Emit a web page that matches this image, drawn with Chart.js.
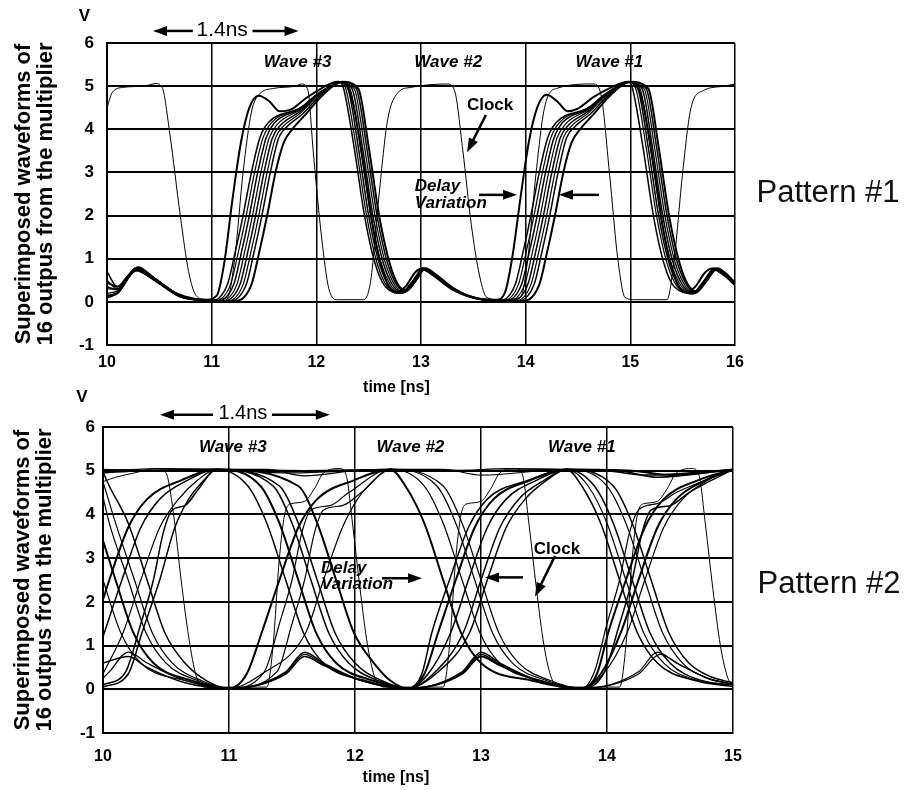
<!DOCTYPE html>
<html lang="en">
<head>
<meta charset="UTF-8">
<title>Superimposed waveforms</title>
<script src="https://cdn.jsdelivr.net/npm/chart.js"></script>
<style>
  body { margin: 0; background: #fff; }
  #wrap { position: relative; width: 908px; height: 790px; overflow: hidden; }
  canvas { position: absolute; left: 0; }
  .pat { position: absolute; width: 170px; text-align: center; font: 31px "Liberation Sans", Arial, sans-serif; line-height: 31px; color: #111; }
</style>
</head>
<body>
<div id="wrap">
  <canvas id="c1" width="908" height="400" style="top:0"></canvas>
  <canvas id="c2" width="908" height="400" style="top:390px"></canvas>
  <div class="pat" style="left:743px; top:176px">Pattern #1</div>
  <div class="pat" style="left:744px; top:567px">Pattern #2</div>
</div>
<script>
// tick labels
const p1Ticks = [10, 11, 12, 13, 14, 15, 16];
const p2Ticks = [10, 11, 12, 13, 14, 15];
const vTicks = [-1, 0, 1, 2, 3, 4, 5, 6];

// Pattern #1 : time (ns), volts pairs
const p1Clock = [10,4.5, 10.05,4.85, 10.15,4.97, 10.35,5.0, 10.47,5.06, 10.53,4.95, 10.6,3.9, 10.7,2.0, 10.78,0.7, 10.85,0.15, 10.95,0.05, 11.15,0.1, 11.22,1.0, 11.3,3.0, 11.38,4.4, 11.45,4.8, 11.6,4.95, 11.8,5.0, 11.86,5.05, 11.92,4.9, 11.97,3.5, 12.05,1.5, 12.12,0.3, 12.2,0.05, 12.45,0.05, 12.52,0.5, 12.6,2.5, 12.68,4.2, 12.78,4.85, 12.9,4.97, 13.25,5.05, 13.32,4.9, 13.4,3.5, 13.48,1.8, 13.56,0.6, 13.63,0.1, 13.75,0.05, 13.95,0.1, 14.02,1.0, 14.1,3.0, 14.18,4.5, 14.3,4.95, 14.65,5.05, 14.72,4.8, 14.8,3.0, 14.88,1.0, 14.95,0.1, 15.05,0.05, 15.35,0.05, 15.42,1.0, 15.5,3.0, 15.58,4.5, 15.7,4.9, 15.9,5.0, 16,5.05];
const p1Early = [10,0.45, 10.1,0.35, 10.2,0.6, 10.3,0.8, 10.4,0.65, 10.55,0.35, 10.75,0.12, 10.95,0.05, 11.05,0.15, 11.12,0.9, 11.2,2.4, 11.28,3.7, 11.36,4.5, 11.45,4.78, 11.55,4.65, 11.65,4.42, 11.75,4.45, 11.9,4.72, 12.05,4.95, 12.2,5.1, 12.28,5.05, 12.35,4.6, 12.45,3.2, 12.55,1.6, 12.65,0.6, 12.75,0.22, 12.85,0.35, 12.95,0.7, 13.02,0.78, 13.1,0.65, 13.3,0.3, 13.55,0.08, 13.72,0.05, 13.8,0.2, 13.87,1.0, 13.95,2.4, 14.03,3.7, 14.11,4.5, 14.2,4.8, 14.3,4.65, 14.4,4.42, 14.5,4.48, 14.65,4.75, 14.8,4.95, 14.98,5.1, 15.05,5.05, 15.12,4.6, 15.22,3.2, 15.32,1.6, 15.42,0.6, 15.52,0.22, 15.62,0.35, 15.72,0.7, 15.8,0.78, 15.9,0.62, 16,0.42];
const p1Out1 = [10,0.7, 10.1,0.35, 10.28,0.78, 10.45,0.55, 10.7,0.15, 10.95,0.03, 11.0,0.02, 11.15,0.4, 11.22,1.1, 11.3,2.0, 11.38,3.0, 11.46,3.8, 11.54,4.15, 11.85,4.5, 12.0,4.8, 12.15,5.02, 12.22,5.1, 12.26,4.95, 12.36,3.6, 12.46,2.0, 12.56,0.9, 12.66,0.35, 12.82,0.2, 12.92,0.45, 13.02,0.75, 13.12,0.62, 13.3,0.3, 13.55,0.07, 13.75,0.02, 13.9,0.4, 13.97,1.1, 14.05,2.0, 14.13,3.0, 14.21,3.8, 14.29,4.15, 14.6,4.5, 14.75,4.8, 14.9,5.02, 14.98,5.1, 15.02,4.95, 15.12,3.6, 15.22,2.0, 15.32,0.9, 15.42,0.35, 15.6,0.2, 15.7,0.45, 15.8,0.75, 15.9,0.62, 16,0.4];
const p1Out2 = [10,0.5, 10.1,0.3, 10.28,0.8, 10.45,0.56, 10.7,0.15, 10.95,0.03, 11.03,0.02, 11.18,0.4, 11.25,1.1, 11.33,2.0, 11.41,3.0, 11.49,3.8, 11.57,4.15, 11.85,4.5, 12.0,4.8, 12.15,5.02, 12.22,5.1, 12.28,4.95, 12.38,3.6, 12.48,2.0, 12.58,0.9, 12.68,0.35, 12.82,0.22, 12.92,0.48, 13.02,0.78, 13.12,0.64, 13.3,0.3, 13.55,0.07, 13.78,0.02, 13.93,0.4, 14.0,1.1, 14.08,2.0, 14.16,3.0, 14.24,3.8, 14.32,4.15, 14.6,4.5, 14.75,4.8, 14.9,5.02, 14.98,5.1, 15.05,4.95, 15.15,3.6, 15.25,2.0, 15.35,0.9, 15.45,0.35, 15.6,0.2, 15.7,0.47, 15.8,0.77, 15.9,0.63, 16,0.4];
const p1Out3 = [10,0.35, 10.1,0.28, 10.28,0.76, 10.45,0.54, 10.7,0.14, 10.95,0.03, 11.06,0.02, 11.21,0.4, 11.28,1.1, 11.36,2.0, 11.44,3.0, 11.52,3.8, 11.6,4.15, 11.85,4.48, 12.0,4.78, 12.15,5.02, 12.22,5.1, 12.3,4.95, 12.4,3.6, 12.5,2.0, 12.6,0.9, 12.7,0.35, 12.82,0.2, 12.92,0.44, 13.02,0.74, 13.12,0.6, 13.3,0.28, 13.55,0.06, 13.81,0.02, 13.96,0.4, 14.03,1.1, 14.11,2.0, 14.19,3.0, 14.27,3.8, 14.35,4.15, 14.6,4.48, 14.75,4.78, 14.9,5.02, 14.98,5.1, 15.07,4.95, 15.17,3.6, 15.27,2.0, 15.37,0.9, 15.47,0.35, 15.6,0.18, 15.7,0.44, 15.8,0.74, 15.9,0.6, 16,0.38];
const p1Out4 = [10,0.2, 10.1,0.25, 10.28,0.74, 10.45,0.52, 10.7,0.13, 10.95,0.03, 11.09,0.02, 11.24,0.4, 11.31,1.1, 11.39,2.0, 11.47,3.0, 11.55,3.8, 11.63,4.12, 11.85,4.46, 12.0,4.78, 12.15,5.02, 12.22,5.1, 12.32,4.95, 12.42,3.6, 12.52,2.0, 12.62,0.9, 12.72,0.35, 12.82,0.22, 12.92,0.46, 13.02,0.76, 13.12,0.62, 13.3,0.3, 13.55,0.07, 13.84,0.02, 13.99,0.4, 14.06,1.1, 14.14,2.0, 14.22,3.0, 14.3,3.8, 14.38,4.12, 14.6,4.46, 14.75,4.78, 14.9,5.02, 14.98,5.1, 15.09,4.95, 15.19,3.6, 15.29,2.0, 15.39,0.9, 15.49,0.35, 15.6,0.2, 15.7,0.46, 15.8,0.76, 15.9,0.62, 16,0.4];
const p1Out5 = [10,0.12, 10.1,0.22, 10.28,0.72, 10.45,0.5, 10.7,0.12, 10.95,0.03, 11.12,0.02, 11.27,0.4, 11.34,1.1, 11.42,2.0, 11.5,3.0, 11.58,3.8, 11.66,4.1, 11.85,4.42, 12.0,4.76, 12.15,5.02, 12.22,5.1, 12.34,4.95, 12.44,3.6, 12.54,2.0, 12.64,0.9, 12.74,0.35, 12.82,0.24, 12.92,0.48, 13.02,0.77, 13.12,0.63, 13.3,0.3, 13.55,0.07, 13.87,0.02, 14.02,0.4, 14.09,1.1, 14.17,2.0, 14.25,3.0, 14.33,3.8, 14.41,4.1, 14.6,4.42, 14.75,4.76, 14.9,5.02, 14.98,5.1, 15.11,4.95, 15.21,3.6, 15.31,2.0, 15.41,0.9, 15.51,0.35, 15.6,0.22, 15.7,0.48, 15.8,0.77, 15.9,0.63, 16,0.41];
const p1Out6 = [10,0.3, 10.1,0.3, 10.28,0.77, 10.45,0.55, 10.7,0.15, 10.95,0.03, 11.15,0.02, 11.3,0.4, 11.37,1.1, 11.45,2.0, 11.53,3.0, 11.61,3.8, 11.69,4.08, 11.85,4.38, 12.0,4.74, 12.15,5.0, 12.22,5.08, 12.36,4.95, 12.46,3.6, 12.56,2.0, 12.66,0.9, 12.76,0.35, 12.84,0.22, 12.94,0.46, 13.03,0.75, 13.13,0.62, 13.3,0.3, 13.55,0.07, 13.9,0.02, 14.05,0.4, 14.12,1.1, 14.2,2.0, 14.28,3.0, 14.36,3.8, 14.44,4.08, 14.6,4.38, 14.75,4.74, 14.9,5.0, 14.98,5.08, 15.13,4.95, 15.23,3.6, 15.33,2.0, 15.43,0.9, 15.53,0.35, 15.62,0.2, 15.72,0.46, 15.82,0.75, 15.92,0.6, 16,0.42];
const p1Out7 = [10,0.15, 10.1,0.2, 10.28,0.75, 10.45,0.53, 10.7,0.13, 10.95,0.03, 11.18,0.02, 11.33,0.4, 11.4,1.1, 11.48,2.0, 11.56,3.0, 11.64,3.8, 11.72,4.06, 11.87,4.36, 12.02,4.74, 12.15,5.0, 12.24,5.1, 12.38,4.95, 12.48,3.6, 12.58,2.0, 12.68,0.9, 12.78,0.35, 12.86,0.25, 12.95,0.48, 13.04,0.76, 13.14,0.62, 13.32,0.3, 13.55,0.07, 13.93,0.02, 14.08,0.4, 14.15,1.1, 14.23,2.0, 14.31,3.0, 14.39,3.8, 14.47,4.06, 14.62,4.36, 14.77,4.74, 14.9,5.0, 15.0,5.1, 15.15,4.95, 15.25,3.6, 15.35,2.0, 15.45,0.9, 15.55,0.35, 15.63,0.22, 15.73,0.48, 15.83,0.76, 15.93,0.6, 16,0.43];
const p1Out8 = [10,0.1, 10.1,0.2, 10.28,0.73, 10.45,0.52, 10.7,0.12, 10.95,0.03, 11.23,0.02, 11.38,0.4, 11.45,1.1, 11.53,2.0, 11.61,3.0, 11.69,3.7, 11.77,4.0, 11.9,4.35, 12.04,4.74, 12.16,5.0, 12.25,5.1, 12.4,4.95, 12.5,3.6, 12.6,2.0, 12.7,0.9, 12.78,0.4, 12.86,0.26, 12.95,0.5, 13.04,0.78, 13.14,0.64, 13.32,0.3, 13.55,0.07, 13.98,0.02, 14.13,0.4, 14.2,1.1, 14.28,2.0, 14.36,3.0, 14.44,3.7, 14.52,4.0, 14.65,4.35, 14.79,4.74, 14.91,5.0, 15.0,5.1, 15.17,4.95, 15.27,3.6, 15.37,2.0, 15.47,0.9, 15.55,0.4, 15.63,0.24, 15.73,0.5, 15.83,0.78, 15.93,0.62, 16,0.44];

// Pattern #2 : time (ns), volts pairs
const p2Clock = [10,4.75, 10.1,4.85, 10.25,4.95, 10.42,5.05, 10.5,4.95, 10.56,4.0, 10.62,2.5, 10.68,1.2, 10.74,0.3, 10.82,0.05, 11.3,0.05, 11.35,1.0, 11.4,3.0, 11.45,4.1, 11.5,4.25, 11.6,4.3, 11.68,4.6, 11.75,4.95, 11.88,5.05, 11.93,4.9, 11.98,3.8, 12.04,2.3, 12.1,1.0, 12.16,0.25, 12.24,0.05, 12.7,0.05, 12.75,1.0, 12.8,3.0, 12.85,4.1, 12.9,4.25, 13.0,4.3, 13.08,4.6, 13.15,4.95, 13.28,5.05, 13.33,4.9, 13.38,3.8, 13.44,2.3, 13.5,1.0, 13.56,0.25, 13.64,0.05, 14.1,0.05, 14.15,1.0, 14.2,3.0, 14.25,4.1, 14.3,4.25, 14.4,4.3, 14.48,4.6, 14.55,4.95, 14.68,5.05, 14.73,4.9, 14.78,3.8, 14.84,2.3, 14.9,1.0, 14.96,0.25, 15,0.1];
const p2Out1 = [10,1.2, 10.15,2.5, 10.3,3.7, 10.45,4.35, 10.67,4.78, 10.9,5.03, 11.15,4.65, 11.3,3.8, 11.45,2.5, 11.59,1.3, 11.75,0.6, 12.08,0.2, 12.42,0.02, 12.53,0.35, 12.61,1.3, 12.75,2.5, 12.9,3.7, 13.05,4.35, 13.37,4.78, 13.68,5.03, 13.8,4.65, 13.95,3.8, 14.1,2.5, 14.24,1.3, 14.4,0.6, 14.7,0.2, 15,0.06];
const p2Out2 = [10,3.4, 10.1,2.5, 10.24,1.3, 10.4,0.6, 10.7,0.2, 11.0,0.02, 11.14,0.35, 11.26,1.3, 11.4,2.5, 11.55,3.7, 11.7,4.35, 11.99,4.78, 12.28,5.03, 12.4,4.65, 12.55,3.8, 12.7,2.5, 12.84,1.3, 13.0,0.6, 13.4,0.2, 13.8,0.02, 13.92,0.35, 14.01,1.3, 14.15,2.5, 14.3,3.7, 14.45,4.35, 14.72,4.78, 15,5.03];
const p2Out3 = [10,0.35, 10.16,1.3, 10.3,2.5, 10.45,3.7, 10.6,4.35, 10.75,4.78, 10.9,5.03, 11.3,5.03, 11.6,4.88, 12.0,5.0, 12.28,5.03, 12.7,4.65, 12.85,3.8, 13.0,2.5, 13.14,1.3, 13.3,0.6, 13.55,0.2, 13.8,0.02, 13.97,0.35, 14.16,1.3, 14.3,2.5, 14.45,3.7, 14.6,4.35, 14.8,4.78, 15,5.03];
const p2Out4 = [10,4.95, 10.3,5.0, 10.9,5.03, 11.4,4.65, 11.55,3.8, 11.7,2.5, 11.84,1.3, 12.0,0.6, 12.21,0.2, 12.42,0.02, 12.85,0.4, 13.0,0.85, 13.15,0.6, 13.45,0.2, 13.8,0.02, 13.98,0.4, 14.1,1.5, 14.2,2.5, 14.28,3.6, 14.35,4.1, 14.5,4.2, 14.65,4.5, 15,5.03];
const p2Out5 = [10,0.25, 10.05,0.4, 10.2,0.85, 10.35,0.6, 10.65,0.2, 11.0,0.02, 11.38,0.4, 11.5,1.5, 11.6,2.5, 11.68,3.6, 11.75,4.1, 11.9,4.2, 12.05,4.5, 12.28,5.03, 12.7,5.03, 13.0,4.9, 13.68,5.03, 14.0,4.65, 14.15,3.8, 14.3,2.5, 14.44,1.3, 14.6,0.6, 14.8,0.25, 15,0.12];
const p2Out6 = [10,4.97, 10.05,4.65, 10.2,3.8, 10.35,2.5, 10.49,1.3, 10.65,0.6, 10.82,0.2, 11.0,0.02, 11.45,0.4, 11.6,0.85, 11.75,0.6, 12.05,0.2, 12.42,0.02, 12.58,0.35, 12.76,1.3, 12.9,2.5, 13.05,3.7, 13.2,4.35, 13.44,4.78, 13.68,5.03, 14.1,5.0, 14.4,4.85, 15,5.03];
const p2Out7 = [10,2.05, 10.05,2.5, 10.2,3.7, 10.35,4.35, 10.62,4.78, 10.9,5.03, 11.55,4.65, 11.7,3.8, 11.85,2.5, 11.99,1.3, 12.15,0.6, 12.28,0.2, 12.42,0.02, 12.85,0.35, 13.0,0.75, 13.15,0.55, 13.45,0.2, 13.8,0.02, 13.95,0.35, 14.11,1.3, 14.25,2.5, 14.4,3.7, 14.55,4.35, 14.78,4.78, 15,5.03];
const p2Out8 = [10,5.0, 10.5,5.05, 10.9,5.03, 11.5,4.95, 12.28,5.03, 12.55,4.65, 12.7,3.8, 12.85,2.5, 12.99,1.3, 13.15,0.6, 13.48,0.2, 13.8,0.02, 14.25,0.4, 14.4,0.85, 14.55,0.6, 14.8,0.25, 15,0.12];
const p2Out9 = [10,0.6, 10.2,0.75, 10.35,0.5, 10.65,0.15, 11.0,0.02, 11.45,0.35, 11.6,0.75, 11.75,0.55, 12.05,0.2, 12.42,0.02, 12.64,0.35, 12.91,1.3, 13.05,2.5, 13.2,3.7, 13.35,4.35, 13.52,4.78, 13.68,5.03, 13.9,4.65, 14.05,3.8, 14.2,2.5, 14.34,1.3, 14.5,0.6, 14.75,0.2, 15,0.1];
const p2Out10 = [10,4.4, 10.05,3.8, 10.2,2.5, 10.34,1.3, 10.5,0.6, 10.75,0.2, 11.0,0.02, 11.28,0.4, 11.4,1.5, 11.5,2.5, 11.58,3.6, 11.65,4.1, 11.8,4.2, 11.95,4.5, 12.28,5.03, 12.8,5.0, 13.2,5.05, 13.68,5.03, 13.85,4.65, 14.0,3.8, 14.15,2.5, 14.29,1.3, 14.45,0.6, 14.72,0.2, 15,0.1];
const p2Out11 = [10,0.1, 10.18,0.4, 10.3,1.5, 10.4,2.5, 10.48,3.6, 10.55,4.1, 10.65,4.2, 10.75,4.55, 10.9,5.03, 11.6,5.0, 12.28,5.03, 13.0,5.0, 13.68,5.03, 14.05,4.65, 14.2,3.8, 14.35,2.5, 14.49,1.3, 14.65,0.6, 14.83,0.28, 15,0.15];
const p2Out12 = [10,5.02, 10.4,5.0, 10.9,5.03, 11.25,4.65, 11.4,3.8, 11.55,2.5, 11.69,1.3, 11.85,0.6, 12.14,0.2, 12.42,0.02, 12.55,0.35, 12.66,1.3, 12.8,2.5, 12.95,3.7, 13.1,4.35, 13.39,4.78, 13.68,5.03, 14.2,5.0, 14.5,4.9, 15,5.03];
const p2Out13 = [10,2.5, 10.14,1.3, 10.3,0.6, 10.65,0.2, 11.0,0.02, 11.26,0.35, 11.61,1.3, 11.75,2.5, 11.9,3.7, 12.02,4.35, 12.15,4.78, 12.28,5.03, 12.65,4.65, 12.8,3.8, 12.95,2.5, 13.09,1.3, 13.25,0.6, 13.52,0.2, 13.8,0.02, 14.25,0.35, 14.42,0.8, 14.57,0.58, 14.8,0.25, 15,0.12];
const p2Out14 = [10,0.05, 10.2,0.35, 10.31,1.3, 10.45,2.5, 10.57,3.7, 10.68,4.35, 10.8,4.78, 10.9,5.03, 11.35,4.65, 11.5,3.8, 11.65,2.5, 11.79,1.3, 11.95,0.6, 12.18,0.2, 12.42,0.02, 12.62,0.35, 12.86,1.3, 13.0,2.5, 13.15,3.7, 13.3,4.35, 13.5,4.78, 13.68,5.03, 14.0,5.0, 14.3,4.9, 15,5.03];
const p2Out15 = [10,4.75, 10.1,3.8, 10.25,2.5, 10.39,1.3, 10.55,0.6, 10.78,0.2, 11.0,0.02, 11.45,0.38, 11.6,0.8, 11.75,0.57, 12.05,0.2, 12.42,0.02, 12.85,0.38, 13.0,0.8, 13.15,0.57, 13.45,0.2, 13.8,0.02, 13.9,0.4, 14.0,1.5, 14.1,2.5, 14.18,3.6, 14.25,4.1, 14.4,4.25, 14.55,4.5, 15,5.03];

const FONT = '"Liberation Sans", Arial, sans-serif';
Chart.defaults.font.family = FONT;
Chart.defaults.color = '#000';

function pts(a) {
  const out = [];
  for (let i = 0; i < a.length; i += 2) out.push({x: a[i], y: a[i + 1]});
  return out;
}

function trace(arr, w) {
  return {
    data: pts(arr),
    showLine: true,
    borderColor: '#000',
    borderWidth: w,
    pointRadius: 0,
    cubicInterpolationMode: 'monotone',
    fill: false
  };
}

// text and arrows drawn in data units
function notes(spec) {
  return {
    id: 'notes',
    afterDatasetsDraw(chart) {
      const {ctx, scales: {x, y}} = chart;
      ctx.save();
      ctx.fillStyle = '#000';
      ctx.strokeStyle = '#000';
      spec.texts.forEach(n => {
        ctx.font = n.font;
        ctx.textAlign = n.align || 'center';
        ctx.textBaseline = 'middle';
        ctx.fillText(n.t, x.getPixelForValue(n.x), y.getPixelForValue(n.y));
      });
      spec.arrows.forEach(a => {
        const x1 = x.getPixelForValue(a[0]), y1 = y.getPixelForValue(a[1]);
        const x2 = x.getPixelForValue(a[2]), y2 = y.getPixelForValue(a[3]);
        const ang = Math.atan2(y2 - y1, x2 - x1);
        const c = Math.cos(ang), s = Math.sin(ang);
        ctx.lineWidth = 2.5;
        ctx.beginPath();
        ctx.moveTo(x1, y1);
        ctx.lineTo(x2 - 9 * c, y2 - 9 * s);
        ctx.stroke();
        ctx.beginPath();
        ctx.moveTo(x2, y2);
        ctx.lineTo(x2 - 14 * c + 5 * s, y2 - 14 * s - 5 * c);
        ctx.lineTo(x2 - 14 * c - 5 * s, y2 - 14 * s + 5 * c);
        ctx.closePath();
        ctx.fill();
      });
      ctx.restore();
    }
  };
}

function makeChart(id, datasets, ticks, lay, spec) {
  new Chart(document.getElementById(id), {
    type: 'scatter',
    data: {datasets: datasets},
    options: {
      responsive: false,
      animation: false,
      events: [],
      layout: {padding: {left: 0, top: lay.top, right: lay.right, bottom: 0}},
      plugins: {legend: {display: false}, tooltip: {enabled: false}},
      scales: {
        x: {
          type: 'linear',
          min: ticks[0],
          max: ticks[ticks.length - 1],
          afterBuildTicks: s => { s.ticks = ticks.map(v => ({value: v})); },
          afterFit: s => { s.height = lay.xh; },
          ticks: {padding: lay.xpad, font: {size: 16, weight: 'bold'}, color: '#000'},
          grid: {color: '#000', lineWidth: 1.5, drawTicks: false},
          border: {color: '#000', width: 2}
        },
        y: {
          min: -1,
          max: 6,
          afterBuildTicks: s => { s.ticks = vTicks.map(v => ({value: v})); },
          afterFit: s => { s.width = lay.yw; },
          ticks: {padding: lay.ypad, font: {size: 17, weight: 'bold'}, color: '#000'},
          grid: {color: '#000', lineWidth: 2, drawTicks: false},
          border: {color: '#000', width: 2},
          title: {
            display: true,
            text: ['Superimposed waveforms of', '16 outpus from the multiplier'],
            font: {size: 22, weight: 'bold', lineHeight: 1.0},
            color: '#000',
            padding: {top: lay.tpad, bottom: 0}
          }
        }
      }
    },
    plugins: [notes(spec)]
  });
}

const labelFont = 'italic bold 17px ' + FONT;

makeChart('c1', [
  trace(p1Clock, 1),
  trace(p1Early, 2),
  trace(p1Out1, 1.5), trace(p1Out2, 1.2), trace(p1Out3, 1.5), trace(p1Out4, 1.2),
  trace(p1Out5, 1.5), trace(p1Out6, 1.2), trace(p1Out7, 1.5), trace(p1Out8, 2)
], p1Ticks, {top: 43, right: 173, xh: 55, yw: 107, xpad: 8, ypad: 13, tpad: 13}, {
  texts: [
    {t: 'V', x: 9.784, y: 6.63, font: 'bold 17px ' + FONT},
    {t: '1.4ns', x: 11.10, y: 6.29, font: '21px ' + FONT},
    {t: 'Wave #3', x: 11.82, y: 5.56, font: labelFont},
    {t: 'Wave #2', x: 13.26, y: 5.56, font: labelFont},
    {t: 'Wave #1', x: 14.80, y: 5.56, font: labelFont},
    {t: 'Clock', x: 13.66, y: 4.56, font: 'bold 17px ' + FONT},
    {t: 'Delay', x: 12.94, y: 2.68, font: labelFont, align: 'left'},
    {t: 'Variation', x: 12.94, y: 2.29, font: labelFont, align: 'left'},
    {t: 'time [ns]', x: 12.765, y: -1.98, font: 'bold 16px ' + FONT}
  ],
  arrows: [
    [10.82, 6.28, 10.44, 6.28],
    [11.39, 6.28, 11.83, 6.28],
    [13.62, 4.33, 13.44, 3.47],
    [13.555, 2.48, 13.917, 2.48],
    [14.70, 2.48, 14.317, 2.48]
  ]
});

makeChart('c2', [
  trace(p2Clock, 1),
  trace(p2Out1, 1.5), trace(p2Out2, 2), trace(p2Out3, 1.2), trace(p2Out4, 1.5),
  trace(p2Out5, 1.2), trace(p2Out6, 1.5), trace(p2Out7, 2), trace(p2Out8, 1.2),
  trace(p2Out9, 1.5), trace(p2Out10, 1.2), trace(p2Out11, 1.5), trace(p2Out12, 2),
  trace(p2Out13, 1.2), trace(p2Out14, 1.5), trace(p2Out15, 1.2)
], p2Ticks, {top: 37, right: 175, xh: 57, yw: 103, xpad: 14, ypad: 8, tpad: 12}, {
  texts: [
    {t: 'V', x: 9.833, y: 6.67, font: 'bold 17px ' + FONT},
    {t: '1.4ns', x: 11.11, y: 6.30, font: '20px ' + FONT},
    {t: 'Wave #3', x: 11.03, y: 5.54, font: labelFont},
    {t: 'Wave #2', x: 12.44, y: 5.54, font: labelFont},
    {t: 'Wave #1', x: 13.80, y: 5.54, font: labelFont},
    {t: 'Delay', x: 11.73, y: 2.77, font: labelFont, align: 'left'},
    {t: 'Variation', x: 11.73, y: 2.40, font: labelFont, align: 'left'},
    {t: 'Clock', x: 13.603, y: 3.21, font: 'bold 17px ' + FONT},
    {t: 'time [ns]', x: 12.325, y: -2.01, font: 'bold 16px ' + FONT}
  ],
  arrows: [
    [10.873, 6.28, 10.452, 6.28],
    [11.341, 6.28, 11.80, 6.28],
    [12.214, 2.54, 12.532, 2.54],
    [13.333, 2.56, 13.032, 2.56],
    [13.587, 3.05, 13.429, 2.12]
  ]
});
</script>
</body>
</html>
